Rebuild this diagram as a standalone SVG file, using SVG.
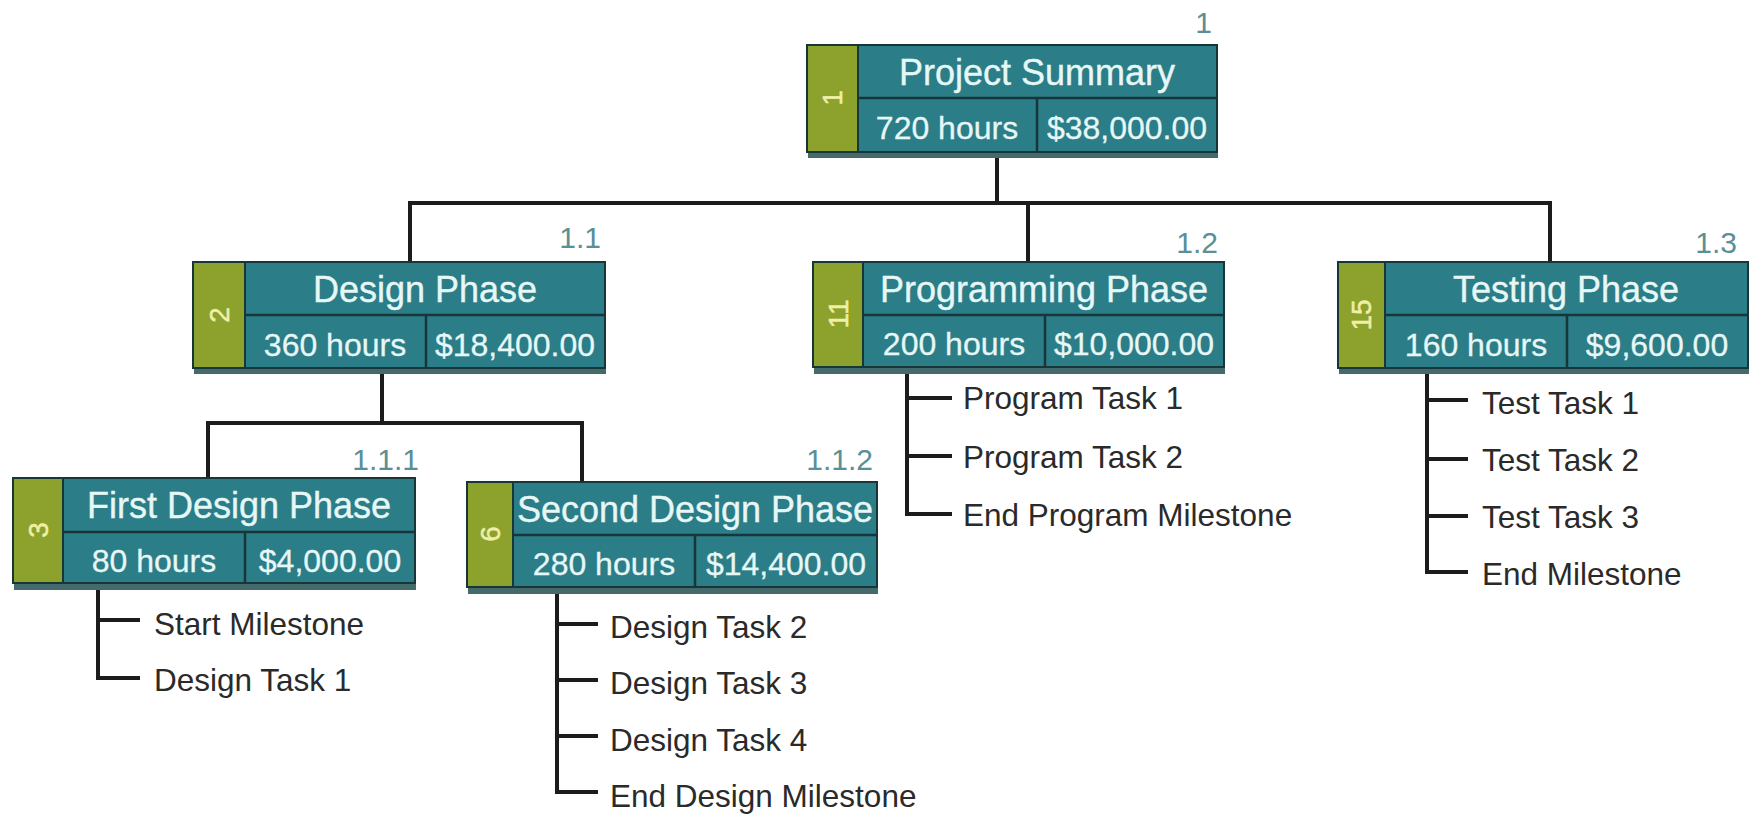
<svg xmlns="http://www.w3.org/2000/svg" width="1754" height="814" viewBox="0 0 1754 814">
<style>
.bg{fill:#ffffff}
.sh{fill:#456a6c}
.box{fill:#2b7d88;stroke:#173638;stroke-width:2}
.grn{fill:#8da12d;stroke:#173638;stroke-width:2}
.div{stroke:#173638;stroke-width:2.5;fill:none}
.t{font-family:"Liberation Sans",Arial,sans-serif;font-size:36px;fill:#e6f7f5;text-anchor:middle;stroke:#e6f7f5;stroke-width:0.4}
.v{font-family:"Liberation Sans",Arial,sans-serif;font-size:32px;fill:#e6f7f5;text-anchor:middle;stroke:#e6f7f5;stroke-width:0.3}
.n{font-family:"Liberation Sans",Arial,sans-serif;font-size:28px;fill:#eef0a8;text-anchor:middle;stroke:#eef0a8;stroke-width:0.5}
.lv{font-family:"Liberation Sans",Arial,sans-serif;font-size:30px;fill:#5a8f97;text-anchor:end}
.task{font-family:"Liberation Sans",Arial,sans-serif;font-size:31.5px;fill:#2a2a2a}
.c{stroke:#1c1c1c;stroke-width:4;fill:none}
</style>
<rect class="bg" x="0" y="0" width="1754" height="814"/>
<g id="connectors">
<path class="c" d="M997 152V203M409 203H1552M410 201V262M1028 201V262M1550 201V262"/>
<path class="c" d="M382 368V423M206 423H584M208 421V478M582 421V482"/>
<path class="c" d="M98 583V678H140M98 620H140"/>
<path class="c" d="M557 587V792H598M557 624H598M557 680H598M557 736H598"/>
<path class="c" d="M907 367V514H952M907 398H952M907 456H952"/>
<path class="c" d="M1427 368V572H1468M1427 400H1468M1427 459H1468M1427 516H1468"/>
</g>
<g id="node-1">
<rect class="sh" x="808" y="52" width="410" height="106"/>
<rect class="box" x="807" y="45" width="410" height="107"/>
<rect class="grn" x="807" y="45" width="51" height="107"/>
<path class="div" d="M858 98H1217M1037 98V152"/>
<text class="n" transform="translate(842 98) rotate(-90)">1</text>
<text class="t" x="1037" y="85">Project Summary</text>
<text class="v" x="947" y="139">720 hours</text>
<text class="v" x="1127" y="139">$38,000.00</text>
<text class="lv" x="1212" y="33">1</text>
</g>
<g id="node-2">
<rect class="sh" x="194" y="268" width="412" height="106"/>
<rect class="box" x="193" y="262" width="412" height="106"/>
<rect class="grn" x="193" y="262" width="52" height="106"/>
<path class="div" d="M245 315H605M426 315V368"/>
<text class="n" transform="translate(229 315) rotate(-90)">2</text>
<text class="t" x="425" y="302">Design Phase</text>
<text class="v" x="335" y="356">360 hours</text>
<text class="v" x="515" y="356">$18,400.00</text>
<text class="lv" x="601" y="248">1.1</text>
</g>
<g id="node-3">
<rect class="sh" x="14" y="484" width="402" height="106"/>
<rect class="box" x="13" y="478" width="402" height="105"/>
<rect class="grn" x="13" y="478" width="50" height="105"/>
<path class="div" d="M63 532H415M245 532V583"/>
<text class="n" transform="translate(48 530) rotate(-90)">3</text>
<text class="t" x="239" y="518">First Design Phase</text>
<text class="v" x="154" y="572">80 hours</text>
<text class="v" x="330" y="572">$4,000.00</text>
<text class="lv" x="419" y="470">1.1.1</text>
<text class="task" x="154" y="635">Start Milestone</text>
<text class="task" x="154" y="691">Design Task 1</text>
</g>
<g id="node-6">
<rect class="sh" x="468" y="488" width="410" height="106"/>
<rect class="box" x="467" y="482" width="410" height="105"/>
<rect class="grn" x="467" y="482" width="46" height="105"/>
<path class="div" d="M513 535H877M695 535V587"/>
<text class="n" transform="translate(500 534) rotate(-90)">6</text>
<text class="t" x="695" y="522">Second Design Phase</text>
<text class="v" x="604" y="575">280 hours</text>
<text class="v" x="786" y="575">$14,400.00</text>
<text class="lv" x="873" y="470">1.1.2</text>
<text class="task" x="610" y="638">Design Task 2</text>
<text class="task" x="610" y="694">Design Task 3</text>
<text class="task" x="610" y="751">Design Task 4</text>
<text class="task" x="610" y="807">End Design Milestone</text>
</g>
<g id="node-11">
<rect class="sh" x="814" y="268" width="411" height="106"/>
<rect class="box" x="813" y="262" width="411" height="105"/>
<rect class="grn" x="813" y="262" width="50" height="105"/>
<path class="div" d="M863 315H1224M1045 315V367"/>
<text class="n" transform="translate(848 314) rotate(-90)">11</text>
<text class="t" x="1044" y="302">Programming Phase</text>
<text class="v" x="954" y="355">200 hours</text>
<text class="v" x="1134" y="355">$10,000.00</text>
<text class="lv" x="1218" y="253">1.2</text>
<text class="task" x="963" y="409">Program Task 1</text>
<text class="task" x="963" y="468">Program Task 2</text>
<text class="task" x="963" y="526">End Program Milestone</text>
</g>
<g id="node-15">
<rect class="sh" x="1339" y="268" width="410" height="106"/>
<rect class="box" x="1338" y="262" width="410" height="106"/>
<rect class="grn" x="1338" y="262" width="47" height="106"/>
<path class="div" d="M1385 315H1748M1567 315V368"/>
<text class="n" transform="translate(1371 315) rotate(-90)">15</text>
<text class="t" x="1566" y="302">Testing Phase</text>
<text class="v" x="1476" y="356">160 hours</text>
<text class="v" x="1657" y="356">$9,600.00</text>
<text class="lv" x="1737" y="253">1.3</text>
<text class="task" x="1482" y="414">Test Task 1</text>
<text class="task" x="1482" y="471">Test Task 2</text>
<text class="task" x="1482" y="528">Test Task 3</text>
<text class="task" x="1482" y="585">End Milestone</text>
</g>
</svg>
